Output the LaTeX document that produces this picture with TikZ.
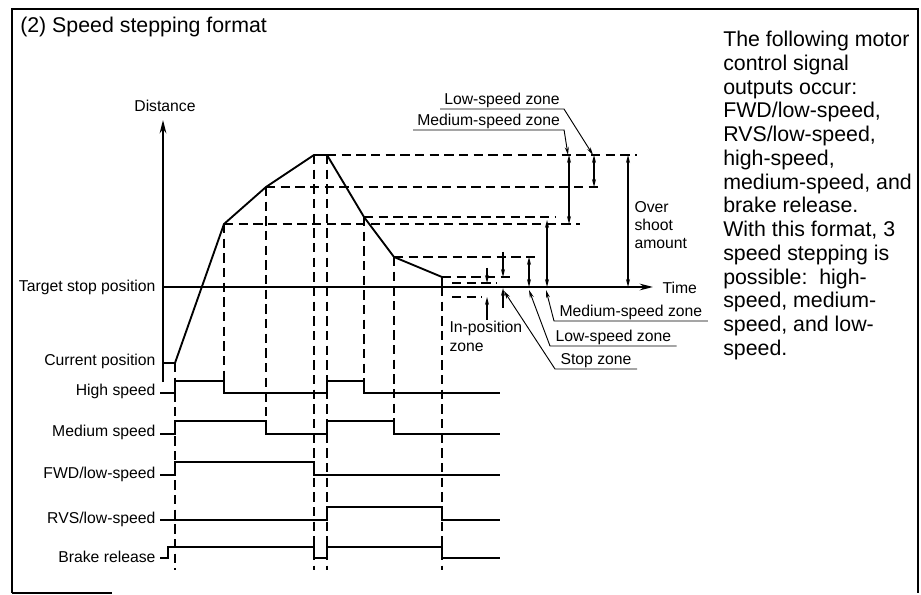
\documentclass[tikz,border=0pt]{standalone}
\usepackage{fontspec}
\setmainfont{Liberation Sans}
\usetikzlibrary{arrows.meta}

\begin{document}
\begin{tikzpicture}[x=0.75pt,y=-0.75pt,
  lbl/.style={font=\fontsize{11.8}{13.5}\selectfont,inner sep=1pt},
  big/.style={font=\fontsize{16}{17.8}\selectfont,inner sep=0pt},
  sig/.style={line width=1.4pt,line join=miter},
  guide/.style={line width=0.9pt,dash pattern=on 7pt off 4pt},
  axis/.style={line width=1.4pt,-{Stealth[length=10pt,width=5pt]}},
  dim/.style={line width=0.9pt,{Stealth[length=6pt,width=3pt]}-{Stealth[length=6pt,width=3pt]}},
  onearr/.style={line width=0.9pt,-{Stealth[length=6pt,width=3pt]}},
  lead/.style={line width=0.7pt,-{Stealth[length=6pt,width=3pt]}}]
\useasboundingbox (0,0) rectangle (921,595);

% frame
\draw[line width=2.2pt] (12,593) -- (12,9) -- (918,9) -- (918,593);
\draw[line width=1pt] (12,593) -- (112,593);

% titles
\node[big,anchor=base west] (title) at (20,33) {(2) Speed stepping format};
\node[big,anchor=north west,align=left] (note) at (723,31) {The following motor\\control signal\\outputs occur:\\FWD/low-speed,\\RVS/low-speed,\\high-speed,\\medium-speed, and\\brake release.\\With this format, 3\\speed stepping is\\possible:\ \ high-\\speed, medium-\\speed, and low-\\speed.};

% axes
\draw[axis] (163,382) -- (163,120);
\node[lbl] (dist) at (165,106) {Distance};
\draw[axis] (163,287) -- (653,287);
\node[lbl,anchor=west] (time) at (661,288) {Time};
\node[lbl,anchor=east] (tgt) at (157,287) {Target stop position};
\node[lbl,anchor=east] (cur) at (157,361) {Current position};

% profile
\coordinate (p0) at (175,363);
\coordinate (p1) at (224,224);
\coordinate (p2) at (266,187);
\coordinate (p3) at (314,155);
\coordinate (p4) at (327,155);
\coordinate (p5) at (364,217);
\coordinate (p6) at (394,257);
\coordinate (p7) at (442,277);
\coordinate (p8) at (442,287);
\draw[sig] (163,363) -- (p0) -- (p1) -- (p2) -- (p3) -- (p4) -- (p5) -- (p6) -- (p7) -- (p8);

% guide lines
\draw[guide] (p4) -- (637,155);
\draw[guide] (p2) -- (602,187);
\draw[guide] (p1) -- (580,224);
\draw[guide] (p5) -- (556,217);
\draw[guide] (p6) -- (538,257);
\draw[guide] (p7) -- (515,277);
\draw[guide] (452,283) -- (497,283);
\draw[guide] (452,297) -- (482,297);
\draw[guide] (p0) -- (175,570);
\draw[guide] (p1) -- (224,381);
\draw[guide] (p2) -- (266,421);
\draw[guide] (p3) -- (314,570);
\draw[guide] (p4) -- (327,570);
\draw[guide] (p5) -- (364,381);
\draw[guide] (p6) -- (394,421);
\draw[guide] (p8) -- (442,570);

% signals
\node[lbl,anchor=east] (hs) at (157,391) {High speed};
\node[lbl,anchor=east] (ms) at (157,432) {Medium speed};
\node[lbl,anchor=east] (fwd) at (157,474) {FWD/low-speed};
\node[lbl,anchor=east] (rvs) at (157,519) {RVS/low-speed};
\node[lbl,anchor=east] (brk) at (157,557) {Brake release};
\draw[sig] (160,393) -- (175,393) -- (175,381) -- (224,381) -- (224,393) -- (327,393) -- (327,381) -- (364,381) -- (364,393) -- (500,393);
\draw[sig] (160,434) -- (175,434) -- (175,421) -- (266,421) -- (266,434) -- (327,434) -- (327,421) -- (394,421) -- (394,434) -- (500,434);
\draw[sig] (160,475) -- (175,475) -- (175,462) -- (314,462) -- (314,475) -- (500,475);
\draw[sig] (160,520) -- (327,520) -- (327,507) -- (442,507) -- (442,520) -- (500,520);
\draw[sig] (160,558) -- (168,558) -- (168,547) -- (314,547) -- (314,558) -- (327,558) -- (327,547) -- (442,547) -- (442,558) -- (500,558);

% zones
\draw[dim] (569,155) -- (569,224);
\draw[dim] (594,155) -- (594,187);
\draw[dim] (628,155) -- (628,287);
\draw[dim] (547,220) -- (547,287);
\draw[dim] (529,257) -- (529,287);
\draw[onearr] (503,252) -- (503,277);
\draw[onearr] (503,308) -- (503,288);
\draw[onearr] (487,268) -- (487,283);
\node[lbl,align=left,anchor=west] (over) at (633,225) {Over\\shoot\\amount};

% leader labels
\coordinate (tlu) at (593,155);
\coordinate (tmu) at (568,155);
\coordinate (tml) at (546,290);
\coordinate (tll) at (529,290);
\coordinate (tst) at (504,291);
\coordinate (tip) at (487,297);
\node[lbl,anchor=south west,inner xsep=3pt] (lzu) at (440,109) {Low-speed zone};
\node[lbl,anchor=south west,inner xsep=3pt] (mzu) at (413,130) {Medium-speed zone};
\node[lbl,anchor=south west,inner xsep=4pt] (mzl) at (554,321) {Medium-speed zone};
\node[lbl,anchor=south west,inner xsep=4pt] (lzl) at (550,346) {Low-speed zone};
\node[lbl,anchor=south west,inner xsep=4pt] (stz) at (555,369) {Stop zone};
\node[lbl,align=left,anchor=north west] (ipz) at (448,320) {In-position\\zone};
\draw[lead] (lzu.south west) -- (lzu.south east) -- (tlu);
\draw[lead] (mzu.south west) -- (mzu.south east) -- (tmu);
\draw[lead] (mzl.south east) -- (mzl.south west) -- (tml);
\draw[lead] (lzl.south east) -- (lzl.south west) -- (tll);
\draw[lead] (stz.south east) -- (stz.south west) -- (tst);
\draw[onearr] (ipz.north -| tip) -- (tip);
\end{tikzpicture}
\end{document}
